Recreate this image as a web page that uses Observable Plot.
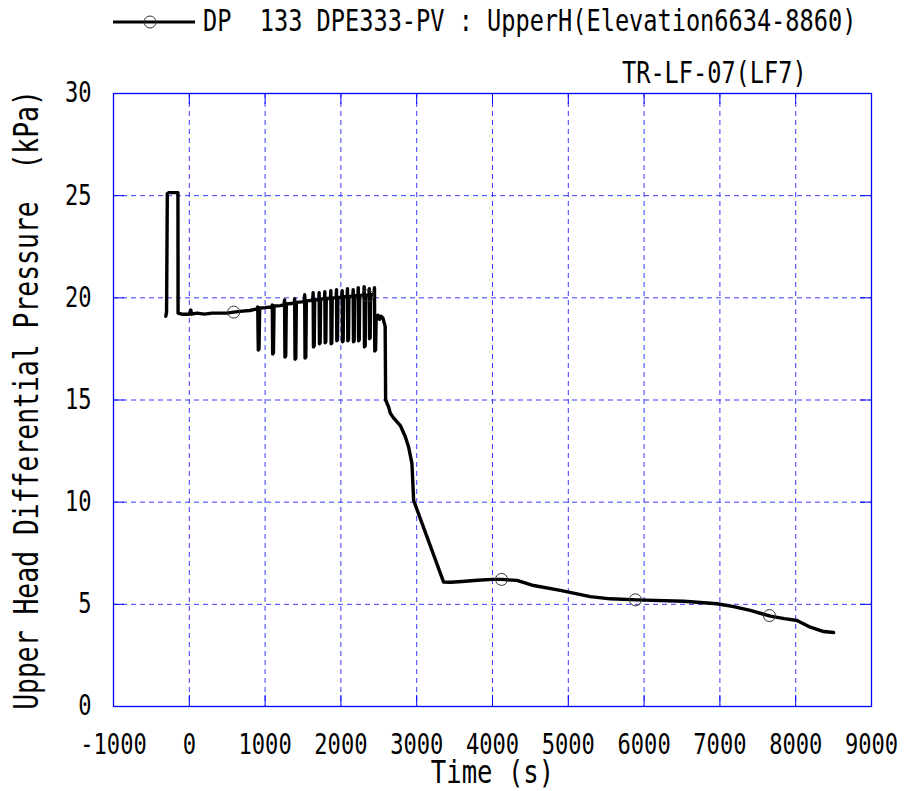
<!DOCTYPE html>
<html>
<head>
<meta charset="utf-8">
<script src="https://cdn.jsdelivr.net/npm/d3@7"></script>
<script src="https://cdn.jsdelivr.net/npm/@observablehq/plot@0.6"></script>
<style>
  html, body { margin: 0; padding: 0; background: #fff; overflow: hidden; }
  #wrap { position: relative; width: 909px; height: 791px; }
  #chart svg { display: block; }
  #head { position: absolute; left: 0; top: 0; pointer-events: none; }
</style>
</head>
<body>
<div id="wrap">
  <div id="chart"></div>
  <svg id="head" width="909" height="90" xmlns="http://www.w3.org/2000/svg">
    <line x1="113" y1="22" x2="195" y2="22" stroke="#000" stroke-width="3"/>
    <circle cx="150" cy="22" r="6" fill="none" stroke="#333" stroke-width="1"/>
    <text id="legendText" transform="translate(203,31) scale(0.8,1)" font-family="DejaVu Sans Mono" font-size="29.5" fill="#000" style="white-space:pre"></text>
    <text id="runText" transform="translate(622,83) scale(0.8,1)" font-family="DejaVu Sans Mono" font-size="29.5" fill="#000"></text>
  </svg>
</div>
<script>
// ---- data ----
const seriesName = "DP\u00a0\u00a0133 DPE333-PV : UpperH(Elevation6634-8860)";
const runName = "TR-LF-07(LF7)";
const xLabel = "Time (s)";
const yLabel = "Upper Head Differential Pressure\u00a0\u00a0(kPa)";

const xTicks = [-1000, 0, 1000, 2000, 3000, 4000, 5000, 6000, 7000, 8000, 9000];
const yTicks = [0, 5, 10, 15, 20, 25, 30];

const times = [
  -310, -300, -290, -270, -200, -150, -148, -100, 0, 20, 30, 100, 200, 300, 400, 500, 585, 700, 800, 880,
  895, 903, 910, 920, 928, 1000, 1080,
  1088, 1095, 1100, 1110, 1118, 1200, 1245,
  1250, 1257, 1262, 1272, 1280, 1350, 1380,
  1384, 1390, 1395, 1405, 1412, 1480, 1512,
  1516, 1522, 1527, 1537, 1544, 1600, 1625,
  1628, 1634, 1638, 1648, 1654, 1700,
  1708, 1713, 1717, 1726, 1732, 1775,
  1783, 1788, 1792, 1801, 1807, 1860,
  1862, 1867, 1871, 1880, 1886, 1935,
  1937, 1942, 1946, 1955, 1961, 2010,
  2012, 2017, 2021, 2030, 2036, 2080,
  2082, 2087, 2091, 2100, 2106, 2155,
  2157, 2162, 2166, 2175, 2181, 2222,
  2224, 2229, 2233, 2242, 2248, 2300,
  2302, 2307, 2311, 2320, 2326, 2368,
  2370, 2374, 2378, 2386, 2392, 2430,
  2438, 2443, 2447, 2458, 2465,
  2490, 2510, 2530, 2555, 2570, 2584, 2590, 2630, 2652, 2700, 2784, 2850, 2893, 2937, 2960,
  3355, 3450, 3600, 3800, 4000, 4120, 4323, 4543, 4894, 5290, 5554, 5906, 6522, 6962, 7181,
  7401, 7665, 7850, 8017, 8193, 8369, 8500
];
const pressure = [
  19.1, 19.3, 25.1, 25.15, 25.15, 25.15, 19.25, 19.2, 19.2, 19.4, 19.2, 19.25, 19.2, 19.25, 19.25, 19.25, 19.3, 19.35, 19.38, 19.45,
  19.45, 19.55, 17.45, 17.5, 19.5, 19.52, 19.55,
  19.58, 19.65, 17.25, 17.3, 19.6, 19.62, 19.65,
  19.68, 19.9, 17.1, 17.15, 19.7, 19.72, 19.75,
  19.75, 19.95, 17.0, 17.05, 19.78, 19.8, 19.82,
  19.85, 20.15, 17.05, 17.1, 19.85, 19.87, 19.88,
  19.9, 20.25, 17.6, 17.65, 19.9, 19.92,
  19.92, 20.25, 17.75, 17.8, 19.93, 19.95,
  19.95, 20.3, 17.8, 17.85, 19.97, 19.98,
  19.98, 20.35, 17.75, 17.8, 20.0, 20.0,
  20.0, 20.4, 17.9, 17.95, 20.02, 20.02,
  20.03, 20.35, 17.85, 17.9, 20.05, 20.05,
  20.05, 20.45, 17.9, 17.95, 20.07, 20.08,
  20.08, 20.4, 17.85, 17.9, 20.1, 20.1,
  20.1, 20.5, 17.9, 17.95, 20.12, 20.12,
  20.12, 20.55, 17.6, 17.65, 20.13, 20.14,
  20.14, 20.45, 18.0, 18.05, 20.15, 20.15,
  20.2, 20.5, 17.4, 17.45, 19.1,
  19.15, 18.95, 19.1, 19.0, 18.8, 18.6, 15.0, 14.65, 14.35, 14.1, 13.75, 13.2, 12.7, 11.9, 10.08,
  6.09, 6.08, 6.12, 6.18, 6.22, 6.22, 6.17, 5.92, 5.68, 5.38, 5.27, 5.22, 5.15, 5.03, 4.89,
  4.70, 4.42, 4.3, 4.21, 3.88, 3.67, 3.62
];
const markerTimes = [585, 2352, 4119, 5886, 7653];
const markerValues = [19.3, 20.1, 6.22, 5.22, 4.45];

// ---- build tables ----
const series = times.map((t, i) => ({t, v: pressure[i]}));
const markers = markerTimes.map((t, i) => ({t, v: markerValues[i]}));

document.getElementById("legendText").textContent = seriesName;
document.getElementById("runText").textContent = runName;

const W = 909, H = 791;
const mL = 113, mR = 38, mT = 93, mB = 85;
const plotW = W - mL - mR, plotH = H - mT - mB;
const blue = "#0000ff";
const gridBlue = "#3a3aff";
const tickLen = 11;

const chart = Plot.plot({
  width: W, height: H,
  marginLeft: mL, marginRight: mR, marginTop: mT, marginBottom: mB,
  style: {fontFamily: "DejaVu Sans Mono", background: "white", color: "black"},
  x: {domain: [-1000, 9000]},
  y: {domain: [0, 30]},
  marks: [
    Plot.gridX(xTicks, {stroke: gridBlue, strokeOpacity: 1, strokeWidth: 1, strokeDasharray: "5,4"}),
    Plot.gridY(yTicks, {stroke: gridBlue, strokeOpacity: 1, strokeWidth: 1, strokeDasharray: "5,4"}),
    Plot.tickX(xTicks, {x: d => d, stroke: blue, strokeWidth: 1, insetTop: plotH - tickLen}),
    Plot.tickX(xTicks, {x: d => d, stroke: blue, strokeWidth: 1, insetBottom: plotH - tickLen}),
    Plot.tickY(yTicks, {y: d => d, stroke: blue, strokeWidth: 1, insetRight: plotW - tickLen}),
    Plot.tickY(yTicks, {y: d => d, stroke: blue, strokeWidth: 1, insetLeft: plotW - tickLen}),
    Plot.frame({stroke: blue, strokeWidth: 1.3}),
    Plot.axisX(xTicks, {tickSize: 0, tickPadding: 28, tickFormat: d => String(d), label: null, fontSize: 27.6}),
    Plot.axisY(yTicks, {tickSize: 0, tickPadding: 22, tickFormat: d => String(d), label: null, fontSize: 27.6}),
    Plot.line(series, {x: "t", y: "v", stroke: "black", strokeWidth: 3.4}),
    Plot.dot(markers, {x: "t", y: "v", r: 6, stroke: "#333", fill: "none", strokeWidth: 1}),
    Plot.text([xLabel], {text: d => d, frameAnchor: "bottom", textAnchor: "middle", lineAnchor: "middle", dy: 66, fontSize: 32}),
    Plot.text([yLabel], {text: d => d, frameAnchor: "left", textAnchor: "middle", lineAnchor: "middle", rotate: -90, dx: -86, fontSize: 33})
  ]
});

// condense glyphs horizontally (the reference uses a tall, narrow monospace face)
chart.querySelectorAll("text").forEach(t => {
  let tr = t.getAttribute("transform") || "";
  const x = t.getAttribute("x"), y = t.getAttribute("y");
  let tx = 0, ty = 0;
  if (x !== null && x !== "" && !isNaN(+x)) { tx = +x; t.removeAttribute("x"); }
  if (y !== null && y !== "" && !isNaN(+y)) { ty = +y; t.removeAttribute("y"); }
  tr = (tr + ` translate(${tx},${ty}) scale(0.8,1)`).trim();
  t.setAttribute("transform", tr);
});

document.getElementById("chart").appendChild(chart);
</script>
</body>
</html>
